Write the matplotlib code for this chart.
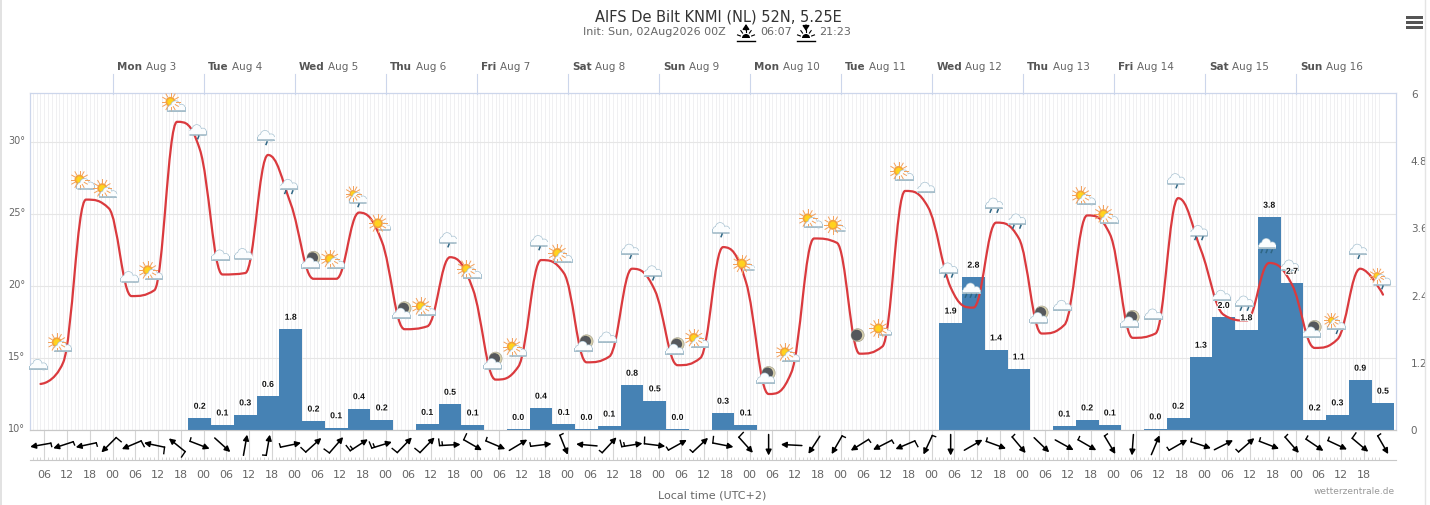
import numpy as np
import matplotlib
matplotlib.use('Agg')
import matplotlib.pyplot as plt
import matplotlib.patheffects as pe
from matplotlib.path import Path
from matplotlib.patches import PathPatch, Circle, Wedge, Rectangle
from matplotlib.ticker import MultipleLocator, FixedLocator, FixedFormatter
from matplotlib.transforms import Affine2D

plt.rcParams['font.family'] = 'DejaVu Sans'

# 6-hourly values, one per model step
temps = [13.2, 14.7, 26.0, 25.4, 19.3, 19.7, 31.4, 29.5, 20.8, 20.9,
         29.1, 25.7, 20.5, 20.5, 25.1, 23.1, 17.0, 17.2, 22.0, 19.8,
         13.5, 14.4, 21.8, 20.9, 14.7, 15.1, 21.2, 19.7, 14.5, 15.0,
         22.7, 20.3, 12.5, 14.0, 23.3, 23.0, 15.3, 15.8, 26.6, 25.5,
         19.9, 18.5, 24.4, 23.3, 16.7, 17.3, 24.9, 23.6, 16.4, 16.7,
         26.1, 22.5, 18.0, 17.6, 21.6, 20.1, 15.7, 16.3, 21.2, 19.4]
precip = [0, 0, 0, 0, 0, 0, 0, .21, .09, .27,
          .60, 1.80, .16, .04, .38, .18, 0, .10, .46, .09,
          0, .01, .39, .10, .01, .07, .80, .52, .01, 0,
          .30, .09, 0, 0, 0, 0, 0, 0, 0, 0,
          1.91, 2.73, 1.43, 1.09, 0, .07, .18, .09, 0, .02,
          .21, 1.30, 2.01, 1.79, 3.80, 2.62, .18, .27, .89, .48]
precip_labels = ['', '', '', '', '', '', '', '0.2', '0.1', '0.3',
                 '0.6', '1.8', '0.2', '0.1', '0.4', '0.2', '', '0.1', '0.5', '0.1',
                 '', '0.0', '0.4', '0.1', '0.0', '0.1', '0.8', '0.5', '0.0', '',
                 '0.3', '0.1', '', '', '', '', '', '', '', '',
                 '1.9', '2.8', '1.4', '1.1', '', '0.1', '0.2', '0.1', '', '0.0',
                 '0.2', '1.3', '2.0', '1.8', '3.8', '2.7', '0.2', '0.3', '0.9', '0.5']
# direction the arrow points, degrees counter clockwise from east
wind_dir = [190, 198, 192, 225, 203, 168, 141, -21, -42, 80,
            80, 12, 42, 49, 33, 17, 46, 46, 3, -30,
            -23, 31, 7, -68, 175, 47, 9, -7, 29, 43,
            -11, -48, -90, 177, 237, 240, 212, 207, 203, 245,
            -90, 30, -20, -50, -44, -29, -30, -59, 266, 67,
            30, -18, 27, 41, -21, -49, -34, -25, -40, -60]
# barbs in half units, 1 short, 2 long, 3 long and short
wind_barbs = [1, 1, 1, 2, 2, 2, 2, 1, 0, 0,
              1, 1, 2, 2, 3, 3, 2, 2, 3, 2,
              1, 0, 1, 1, 0, 1, 3, 2, 1, 1,
              2, 2, 0, 0, 0, 1, 1, 1, 2, 1,
              0, 0, 1, 1, 0, 0, 1, 1, 0, 0,
              1, 1, 0, 1, 1, 1, 1, 1, 2, 1]
symbols = ['cloud', 'sun', 'sun', 'sun', 'cloud', 'sun', 'sun', 'rain', 'cloud', 'cloud',
           'rain', 'shower', 'moon', 'sun', 'sunrain', 'bigsun', 'moon', 'sun', 'rain', 'sun',
           'moon', 'sun', 'rain', 'sun', 'moon', 'cloud', 'rain', 'rain', 'moon', 'sun',
           'rain', 'bigsun', 'moon', 'sun', 'sun', 'bigsun', 'moononly', 'bigsun', 'sun', 'cloud',
           'shower', 'heavy', 'shower', 'shower', 'moon', 'cloud', 'sun', 'sun', 'moon', 'cloud',
           'rain', 'shower', 'cloud', 'shower', 'heavy', 'rain', 'moon', 'sunrain', 'rain', 'sunrain']
day_hours = [0, 24, 48, 72, 96, 120, 144, 168, 192, 216, 240, 264, 288, 312]
day_names = ['Mon', 'Tue', 'Wed', 'Thu', 'Fri', 'Sat', 'Sun', 'Mon', 'Tue', 'Wed', 'Thu', 'Fri', 'Sat', 'Sun']
day_dates = ['Aug 3', 'Aug 4', 'Aug 5', 'Aug 6', 'Aug 7', 'Aug 8', 'Aug 9', 'Aug 10',
             'Aug 11', 'Aug 12', 'Aug 13', 'Aug 14', 'Aug 15', 'Aug 16']
hour_labels = ['06', '12', '18', '00'] * 14 + ['06', '12', '18']
temp_ticks = [10, 15, 20, 25, 30]
precip_ticks = [0, 1.2, 2.4, 3.6, 4.8, 6]

W, H = 1430, 505
GREY = '#666666'
BORDER = '#ccd6eb'
hours = -19 + 6 * np.arange(len(temps))
hour_ticks = -18 + 6 * np.arange(len(hour_labels))
minor_hours = np.arange(-21, 335)


def box(x0, y0, x1, y1):
    return [x0 / W, 1 - y1 / H, (x1 - x0) / W, (y1 - y0) / H]


def spline_path(xs, ys):
    # same curve as a highcharts spline series, smoothing 1.5
    verts = [(xs[0], ys[0])]
    codes = [Path.MOVETO]
    n = len(xs)
    right = (xs[0], ys[0])
    for i in range(1, n):
        if i < n - 1:
            lx = (1.5 * xs[i] + xs[i - 1]) / 2.5
            ly = (1.5 * ys[i] + ys[i - 1]) / 2.5
            rx = (1.5 * xs[i] + xs[i + 1]) / 2.5
            ry = (1.5 * ys[i] + ys[i + 1]) / 2.5
            fix = (ry - ly) * (rx - xs[i]) / (rx - lx) + ys[i] - ry
            ly += fix
            ry += fix
            if ly > ys[i - 1] and ly > ys[i]:
                ly = max(ys[i - 1], ys[i])
                ry = 2 * ys[i] - ly
            elif ly < ys[i - 1] and ly < ys[i]:
                ly = min(ys[i - 1], ys[i])
                ry = 2 * ys[i] - ly
            if ry > ys[i + 1] and ry > ys[i]:
                ry = max(ys[i + 1], ys[i])
                ly = 2 * ys[i] - ry
            elif ry < ys[i + 1] and ry < ys[i]:
                ry = min(ys[i + 1], ys[i])
                ly = 2 * ys[i] - ry
        else:
            lx, ly = xs[i], ys[i]
            rx, ry = xs[i], ys[i]
        verts += [right, (lx, ly), (xs[i], ys[i])]
        codes += [Path.CURVE4, Path.CURVE4, Path.CURVE4]
        right = (rx, ry)
    return Path(verts, codes)


def draw_cloud(o, cx, cy, w=18):
    s = w / 18
    parts = [(-1, -1.5, 4.2), (-5, 1, 2.8), (5, 1, 3.2)]
    for fc, grow in (('#a9c3d2', 0.7), ('#fbfdfe', 0)):
        for dx, dy, r in parts:
            o.add_patch(Circle((cx + dx * s, cy + dy * s), (r + grow) * s, fc=fc, lw=0))
        o.add_patch(Rectangle((cx - (8.5 + grow) * s, cy + 0.5 * s), (17 + 2 * grow) * s, (3.5 + grow) * s, fc=fc, lw=0))
    o.plot([cx - 8 * s, cx + 8 * s], [cy + 4 * s, cy + 4 * s], color='#a4bcc8', lw=1.2, solid_capstyle='round')


def draw_sun(o, cx, cy, r=5):
    for a in np.deg2rad(np.arange(0, 360, 30)):
        o.plot([cx + (r + 0.5) * np.cos(a), cx + (r + 4) * np.cos(a)],
               [cy + (r + 0.5) * np.sin(a), cy + (r + 4) * np.sin(a)], color='#f4a05a', lw=0.7)
    o.add_patch(Circle((cx, cy), r, fc='#f3a33c', lw=0))
    o.add_patch(Circle((cx, cy), r * 0.65, fc='#ffd21f', lw=0))


def draw_moon(o, cx, cy, r=6.5):
    o.add_patch(Circle((cx, cy), r, fc='#d9d2ae', ec='#a8a490', lw=0.5))
    o.add_patch(Circle((cx - 1, cy), r - 1, fc='#55585c', lw=0))


def draw_drops(o, cx, cy, n):
    for dx in {1: [1], 2: [-3, 4], 3: [-5, 0, 5]}[n]:
        o.plot([cx + dx, cx + dx - 1], [cy + 5.5, cy + 8], color='#2f6684', lw=1.1)


def draw_symbol(o, kind, cx, cy):
    if kind == 'cloud':
        draw_cloud(o, cx, cy)
    elif kind == 'rain':
        draw_cloud(o, cx, cy)
        draw_drops(o, cx, cy, 1)
    elif kind == 'shower':
        draw_cloud(o, cx, cy)
        draw_drops(o, cx, cy, 2)
    elif kind == 'heavy':
        draw_cloud(o, cx, cy)
        draw_drops(o, cx, cy, 3)
    elif kind == 'sun':
        draw_sun(o, cx - 4.5, cy - 1.5)
        draw_cloud(o, cx + 1.5, cy + 3.5)
    elif kind == 'sunrain':
        draw_sun(o, cx - 4, cy - 0.5, 3.5)
        draw_cloud(o, cx + 1, cy + 4.5)
        draw_drops(o, cx + 1, cy + 4.5, 1)
    elif kind == 'bigsun':
        draw_cloud(o, cx + 5, cy + 4, 12)
        draw_sun(o, cx - 2, cy + 0.5)
    elif kind == 'moon':
        draw_moon(o, cx + 2, cy - 2.5)
        draw_cloud(o, cx - 1, cy + 3.5)
    elif kind == 'moononly':
        draw_moon(o, cx, cy)


def draw_sun_glyph(o, cx, up):
    o.plot([cx - 9, cx + 9], [41, 41], color='black', lw=1)
    o.add_patch(Wedge((cx, 38), 4, 180, 360, fc='black', lw=0))
    for a in [200, 235, 270, 305, 340]:
        t = np.deg2rad(a)
        o.plot([cx + 6 * np.cos(t), cx + 9 * np.cos(t)], [38 + 6 * np.sin(t), 38 + 9 * np.sin(t)], color='black', lw=0.8)
    tip, tail = (24, 30) if up else (31, 25)
    o.annotate('', xy=(cx, tip), xytext=(cx, tail),
               arrowprops=dict(arrowstyle='-|>,head_width=0.2,head_length=0.3', color='black', lw=1, shrinkA=0, shrinkB=0))


fig = plt.figure(figsize=(W / 100, H / 100), dpi=100)
fig.patch.set_facecolor('white')

# temperature axes carries the grid, bars sit on a twin above it
ax = fig.add_axes(box(29.5, 93.5, 1395.5, 430))
ax.set_zorder(1)
ax.set_xlim(-21.9, 338.3)
ax.set_ylim(10, 10 + 336.5 / 14.4)
ax.set_yticks(temp_ticks)
ax.set_yticklabels([str(t) + '°' for t in temp_ticks], color=GREY, fontsize=7)
ax.tick_params(axis='y', length=0, pad=3)
for lab in ax.get_yticklabels():
    lab.set_transform(lab.get_transform() + Affine2D().translate(0, 1.5))
ax.grid(axis='y', color='#e6e6e6', lw=0.8)
ax.xaxis.set_major_locator(FixedLocator(minor_hours))
ax.grid(axis='x', which='major', color='#f0f0f2', lw=0.7)
ax.tick_params(axis='x', which='both', length=0, labelbottom=False)
ax.set_axisbelow(True)
for d in day_hours:
    ax.axvline(d, color='#dfe4ee', lw=0.8, zorder=0.5)

axp = ax.twinx()
axp.set_zorder(2)
axp.patch.set_visible(False)
axp.set_ylim(0, 6 * 336.5 / 336)
axp.set_yticks(precip_ticks)
axp.set_yticklabels(['0', '1.2', '2.4', '3.6', '4.8', '6'], color=GREY, fontsize=7.5)
axp.tick_params(axis='y', length=0, pad=11)
axp.bar(hours, precip, width=6, color='#4682b4', zorder=2)
axp.add_patch(PathPatch(spline_path(hours, temps), transform=ax.transData, fc='none',
                        ec='#da3a3e', lw=1.6, zorder=3, capstyle='round'))
for a in (ax, axp):
    for side in a.spines:
        a.spines[side].set_color(BORDER)
    a.spines['bottom'].set_color('#c8c8c8')

# wind row under the plot
axw = fig.add_axes(box(29.5, 430, 1395.5, 460))
axw.set_xlim(ax.get_xlim())
axw.set_ylim(460, 430)
axw.set_yticks([])
for side in ('top', 'left', 'right'):
    axw.spines[side].set_visible(False)
axw.spines['bottom'].set_color('#c8c8c8')
axw.xaxis.set_major_locator(FixedLocator(hour_ticks))
axw.xaxis.set_major_formatter(FixedFormatter(hour_labels))
axw.xaxis.set_minor_locator(FixedLocator(minor_hours))
axw.tick_params(axis='x', which='major', length=0, pad=7, labelsize=8, labelcolor=GREY)
axw.tick_params(axis='x', which='minor', length=2.2, width=0.6, color='#d0d0d0', direction='in')
axw.grid(axis='x', which='major', color='#d4d4d4', lw=0.8)
axw.set_axisbelow(True)
scale = 1 / (axw.transData.transform((1, 445))[0] - axw.transData.transform((0, 445))[0])
for h, deg, barb in zip(hours, wind_dir, wind_barbs):
    t = np.deg2rad(deg)
    dx, dy = 10.5 * np.cos(t), -10.5 * np.sin(t)
    # barb leans to the left of the arrow, y runs down in this row
    bt = np.deg2rad(deg + 95)
    bx, by = np.cos(bt), -np.sin(bt)
    axw.annotate('', xy=(h + dx * scale, 445 + dy), xytext=(h - dx * scale, 445 - dy),
                 arrowprops=dict(arrowstyle='-|>,head_width=0.17,head_length=0.33', color='black', lw=1.1,
                                 shrinkA=0, shrinkB=0))
    x0, y0 = h - dx * scale, 445 - dy
    length = {0: 0, 1: 3.5, 2: 6.5, 3: 6.5}[barb]
    if length:
        axw.plot([x0, x0 + bx * length * scale], [y0, y0 + by * length], color='black', lw=1)
    if barb == 3:
        x1, y1 = x0 + dx * scale * 0.28, y0 + dy * 0.28
        axw.plot([x1, x1 + bx * 3.5 * scale], [y1, y1 + by * 3.5], color='black', lw=1)

# page level things, pixel coordinates with y running down
ov = fig.add_axes([0, 0, 1, 1])
ov.set_zorder(3)
ov.set_xlim(0, W)
ov.set_ylim(H, 0)
ov.axis('off')
fig.canvas.draw()

for h, t, kind in zip(hours, temps, symbols):
    px, py = ax.transData.transform((h, t))
    draw_symbol(ov, kind, px - 2, H - py - 18.5)

for h, v, lab in zip(hours, precip, precip_labels):
    if lab:
        px, py = axp.transData.transform((h, v))
        ov.text(px, H - py - 12, lab, ha='center', va='center', fontsize=6.2, fontweight='bold',
                family='Liberation Sans', color='#111111',
                path_effects=[pe.withStroke(linewidth=1.5, foreground='white')], zorder=10)

renderer = fig.canvas.get_renderer()
for d, name, date in zip(day_hours, day_names, day_dates):
    px = ax.transData.transform((d, 10))[0]
    ov.plot([px, px], [74, 93.5], color=BORDER, lw=0.8)
    tb = ov.text(px + 4.5, 67, name, fontsize=7.5, fontweight='bold', color='#555555', ha='left', va='center')
    end = tb.get_window_extent(renderer).x1
    ov.text(end + 3.5, 67, date, fontsize=7.5, color=GREY, ha='left', va='center')

ov.text(718, 17, 'AIFS De Bilt KNMI (NL) 52N, 5.25E', fontsize=10.5, color='#333333', ha='center', va='center')
ov.text(583, 32, 'Init: Sun, 02Aug2026 00Z', fontsize=8, color=GREY, ha='left', va='center')
ov.text(760, 32, '06:07', fontsize=8, color=GREY, ha='left', va='center')
ov.text(819, 32, '21:23', fontsize=8, color=GREY, ha='left', va='center')
draw_sun_glyph(ov, 746, True)
draw_sun_glyph(ov, 806, False)
ov.text(712, 495, 'Local time (UTC+2)', fontsize=8, color=GREY, ha='center', va='center')
ov.text(1395, 492, 'wetterzentrale.de', fontsize=6.5, color='#999999', ha='right', va='center')

for y in (15.5, 20.5, 25.5):
    ov.add_patch(Rectangle((1406, y), 17, 3, fc='#555555', lw=0))
ov.add_patch(Rectangle((1425, 0), 5, H, fc='white', lw=0, zorder=8))
ov.plot([1425, 1425], [0, H], color='#e4e4e4', lw=1, zorder=9)
ov.plot([0.5, 0.5], [0, H], color='#dddddd', lw=1.2, zorder=9)

fig.savefig('out.png', dpi=100)
